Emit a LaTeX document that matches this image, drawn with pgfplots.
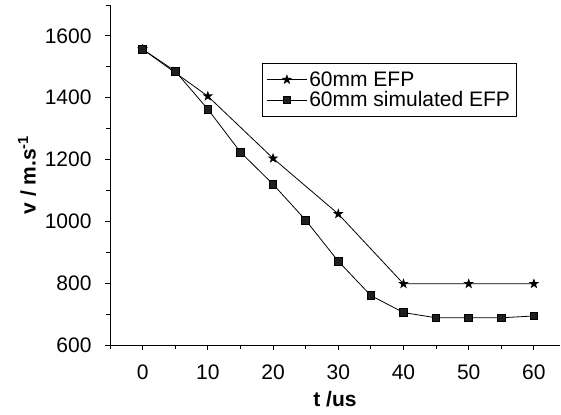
\documentclass[border=0pt]{standalone}
\usepackage{fontspec}
\setmainfont{Liberation Sans}
\usepackage{pgfplots}
\pgfplotsset{compat=1.18}

% filled five-pointed star mark
\pgfdeclareplotmark{fstar}{%
  \pgfpathmoveto{\pgfpointpolar{90}{\pgfplotmarksize}}%
  \pgfpathlineto{\pgfpointpolar{126}{0.4\pgfplotmarksize}}%
  \pgfpathlineto{\pgfpointpolar{162}{\pgfplotmarksize}}%
  \pgfpathlineto{\pgfpointpolar{198}{0.4\pgfplotmarksize}}%
  \pgfpathlineto{\pgfpointpolar{234}{\pgfplotmarksize}}%
  \pgfpathlineto{\pgfpointpolar{270}{0.4\pgfplotmarksize}}%
  \pgfpathlineto{\pgfpointpolar{306}{\pgfplotmarksize}}%
  \pgfpathlineto{\pgfpointpolar{342}{0.4\pgfplotmarksize}}%
  \pgfpathlineto{\pgfpointpolar{18}{\pgfplotmarksize}}%
  \pgfpathlineto{\pgfpointpolar{54}{0.4\pgfplotmarksize}}%
  \pgfpathclose
  \pgfusepathqfill}

\begin{document}
\begin{tikzpicture}
\begin{axis}[
  scale only axis, width=450bp, height=340bp,
  xmin=-5, xmax=64, ymin=600, ymax=1700,
  axis x line*=bottom, axis y line*=left,
  xtick={0,10,...,60}, ytick={600,800,...,1600},
  minor xtick={-5,5,...,55}, minor ytick={700,900,...,1700},
  tick align=outside, major tick length=5bp, minor tick length=3.5bp,
  tick style={line width=0.9bp, black},
  axis line style={line width=0.9bp},
  font=\fontsize{21bp}{25bp}\selectfont,
  /pgf/number format/assume math mode=true,
  /pgf/number format/1000 sep={},
  xticklabel style={yshift=-11bp},
  yticklabel style={xshift=-10bp},
  xlabel={\textbf{t /us}},
  ylabel={\textbf{v / m.s\textsuperscript{-1}}},
  xlabel style={at={(axis description cs:0.5,0)}, anchor=center, yshift=-54bp},
  ylabel style={at={(axis description cs:0,0.5)}, anchor=center, yshift=83bp},
  legend style={at={(0.338,0.829)}, anchor=north west, draw=black,
    line width=0.8bp, inner xsep=4bp, inner ysep=6bp,
    font=\fontsize{21bp}{25bp}\selectfont},
  legend cell align=left,
  legend image code/.code={\draw[mark repeat=2,mark phase=2]
    plot coordinates {(0bp,0bp) (20bp,0bp) (40bp,0bp)};},
]
\addplot[black, line width=0.8bp, mark=fstar, mark size=5.5bp] coordinates {
(0,1557)(10,1405)(20,1204)(30,1024)(40,798)(50,798)(60,798)};
\addlegendentry{60mm EFP}
\addplot[black, line width=0.8bp, mark=square*, mark size=3.8bp,
  mark options={fill=black!88}] coordinates {
(0,1557)(5,1486)(10,1363)(15,1224)(20,1120)(25,1004)(30,871)(35,760)
(40,705)(45,688)(50,688)(55,688)(60,694)};
\addlegendentry{60mm simulated EFP}
\end{axis}
\path ([xshift=-110bp,yshift=-70bp]current axis.south west)
  ([xshift=1bp,yshift=5bp]current axis.north east);
\end{tikzpicture}
\end{document}
